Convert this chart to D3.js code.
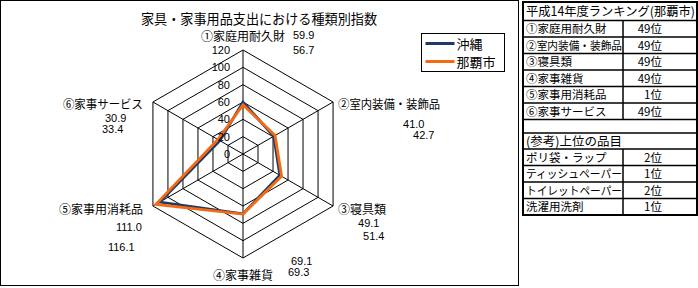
<!DOCTYPE html>
<html>
<head>
<meta charset="utf-8">
<script src="https://cdn.jsdelivr.net/npm/d3@7"></script>
<style>
    body { margin: 0; background: #fff; }
    svg { display: block; font-family: "Noto Sans CJK JP", "DejaVu Sans", sans-serif; }
</style>
</head>
<body>
<script>
// chart data
const categories = ['①家庭用耐久財', '②室内装備・装飾品', '③寝具類', '④家事雑貨', '⑤家事用消耗品', '⑥家事サービス'];
const okinawa = [59.9, 41.0, 49.1, 69.1, 111.0, 30.9];
const naha = [56.7, 42.7, 51.4, 69.3, 116.1, 33.4];
const ticks = [0, 20, 40, 60, 80, 100, 120];

// ranking table
const rankTitle = '平成14年度ランキング(那覇市)';
const rankNames = ['①家庭用耐久財', '②室内装備・装飾品', '③寝具類', '④家事雑貨', '⑤家事用消耗品', '⑥家事サービス'];
const rankValues = ['49位', '49位', '49位', '49位', '1位', '49位'];
const refTitle = '(参考)上位の品目';
const refNames = ['ポリ袋・ラップ', 'ティッシュペーパー', 'トイレットペーパー', '洗濯用洗剤'];
const refValues = ['2位', '1位', '2位', '1位'];

drawChart();

// squeeze a text that runs wider than max
function fit(sel, max)
{
    sel.each(function(d)
    {
        const m = typeof max === 'function' ? max(d) : max;
        if (this.getComputedTextLength() > m)
        {
            d3.select(this).attr('textLength', m).attr('lengthAdjust', 'spacingAndGlyphs');
        }
    });
}

function drawChart()
{
    const width = 698;
    const height = 288;
    const cx = 243;
    const cy = 154;

    const series = [
        { name: '沖縄', values: okinawa, color: '#1d3a66' },
        { name: '那覇市', values: naha, color: '#f46a12' }
    ];

    const svg = d3.select('body').append('svg')
        .attr('width', width)
        .attr('height', height);

    // chart frame
    svg.append('rect')
        .attr('x', 0.5).attr('y', 0.5)
        .attr('width', 518).attr('height', 285)
        .attr('fill', 'none').attr('stroke', '#000');

    svg.append('text')
        .attr('x', 259).attr('y', 24)
        .attr('text-anchor', 'middle')
        .attr('font-size', 13.5)
        .text('家具・家事用品支出における種類別指数')
        .call(fit, 236);

    const r = d3.scaleLinear().domain([0, 120]).range([0, 104]);
    const angle = d3.scalePoint().domain(d3.range(categories.length + 1)).range([0, 2 * Math.PI]);
    const pt = (i, v) => [cx + r(v) * Math.sin(angle(i)), cy - r(v) * Math.cos(angle(i))];

    const g = svg.append('g');

    // hexagon rings
    g.selectAll('path.ring')
        .data(ticks.slice(1))
        .enter()
        .append('path')
        .attr('class', 'ring')
        .attr('d', t => d3.line()(categories.map((c, i) => pt(i, t))) + 'Z')
        .attr('fill', 'none')
        .attr('stroke', '#000')
        .attr('stroke-width', 1);

    // spokes
    g.selectAll('line.spoke')
        .data(categories)
        .enter()
        .append('line')
        .attr('class', 'spoke')
        .attr('x1', cx).attr('y1', cy)
        .attr('x2', (c, i) => pt(i, 120)[0])
        .attr('y2', (c, i) => pt(i, 120)[1])
        .attr('stroke', '#000');

    // series polygons
    const radial = d3.lineRadial()
        .angle((d, i) => angle(i))
        .radius(d => r(d))
        .curve(d3.curveLinearClosed);

    g.selectAll('path.series')
        .data(series)
        .enter()
        .append('path')
        .attr('class', 'series')
        .attr('transform', `translate(${cx}, ${cy})`)
        .attr('d', d => radial(d.values))
        .attr('fill', 'none')
        .attr('stroke', d => d.color)
        .attr('stroke-width', 2.8)
        .attr('stroke-linejoin', 'miter');

    // tick labels
    g.selectAll('text.tick')
        .data(ticks)
        .enter()
        .append('text')
        .attr('class', 'tick')
        .attr('x', cx - 13)
        .attr('y', t => cy - r(t) + 4)
        .attr('text-anchor', 'end')
        .attr('font-size', 11)
        .attr('font-family', 'Liberation Sans, Arial, sans-serif')
        .text(t => t);

    // category labels: [x, y, anchor, max width] relative to the outer vertex
    const catPos = [
        [0, -13, 'middle', 84],
        [5, 3, 'start', 102],
        [5, 4, 'start', 60],
        [0, 18, 'middle', 62],
        [-10, 4, 'end', 84],
        [-10, 3, 'end', 80]
    ];
    categories.forEach((c, i) =>
    {
        const [x, y] = pt(i, 120);
        svg.append('text')
            .attr('x', x + catPos[i][0])
            .attr('y', y + catPos[i][1] + 4)
            .attr('text-anchor', catPos[i][2])
            .attr('font-size', 12)
            .text(c)
            .call(fit, catPos[i][3]);
    });

    // value labels: offsets of each series label from the outer vertex
    const valPos = [
        [[50, -15], [50, 0]],
        [[70, 22], [80, 33]],
        [[25, 17], [30, 30]],
        [[48, 3], [45, 14]],
        [[-37, 21], [-45, 41]],
        [[-48, 16], [-51, 27]]
    ];
    series.forEach((s, k) =>
    {
        s.values.forEach((v, i) =>
        {
            const [x, y] = pt(i, 120);
            svg.append('text')
                .attr('x', x + valPos[i][k][0])
                .attr('y', y + valPos[i][k][1] + 4)
                .attr('font-size', 11)
                .attr('font-family', 'Liberation Sans, Arial, sans-serif')
                .text(v.toFixed(1));
        });
    });

    // legend
    const legend = svg.append('g').attr('transform', 'translate(421.5, 33.5)');
    legend.append('rect')
        .attr('width', 83).attr('height', 38)
        .attr('fill', '#fff').attr('stroke', '#000');
    series.forEach((s, k) =>
    {
        legend.append('line')
            .attr('x1', 4).attr('x2', 33)
            .attr('y1', 10 + k * 18).attr('y2', 10 + k * 18)
            .attr('stroke', s.color).attr('stroke-width', 3);
        legend.append('text')
            .attr('x', 35).attr('y', 15 + k * 18)
            .attr('font-size', 13)
            .text(s.name);
    });

    drawTable(svg);
}

function drawTable(svg)
{
    const left = 523;
    const right = 697;
    const mid = 623;
    const rowH = 16.5;

    const rows = [];
    rows.push({ y0: 2, y1: 20.5, name: rankTitle, value: null });
    let y = 20.5;
    rankNames.forEach((n, i) =>
    {
        rows.push({ y0: y, y1: y + rowH, name: n, value: rankValues[i] });
        y += rowH;
    });
    rows.push({ y0: y, y1: 133, name: '', value: null });
    rows.push({ y0: 133, y1: 149, name: refTitle, value: null });
    y = 149;
    refNames.forEach((n, i) =>
    {
        rows.push({ y0: y, y1: y + rowH, name: n, value: refValues[i] });
        y += rowH;
    });

    const t = svg.append('g');

    t.selectAll('line.row')
        .data(rows.slice(1))
        .enter()
        .append('line')
        .attr('x1', left).attr('x2', right)
        .attr('y1', d => d.y0).attr('y2', d => d.y0)
        .attr('stroke', '#000').attr('stroke-width', 1.5);

    t.selectAll('line.col')
        .data(rows.filter(d => d.value))
        .enter()
        .append('line')
        .attr('x1', mid).attr('x2', mid)
        .attr('y1', d => d.y0).attr('y2', d => d.y1)
        .attr('stroke', '#000').attr('stroke-width', 1.5);

    t.append('rect')
        .attr('x', left).attr('y', 2)
        .attr('width', right - left).attr('height', y - 2)
        .attr('fill', 'none').attr('stroke', '#000').attr('stroke-width', 2);

    t.selectAll('text.name')
        .data(rows)
        .enter()
        .append('text')
        .attr('x', left + 3)
        .attr('y', d => (d.y0 + d.y1) / 2 + 4.5)
        .attr('font-size', d => d.value ? 11.5 : 12.5)
        .text(d => d.name)
        .call(fit, d => d.value ? 96 : 169);

    t.selectAll('text.value')
        .data(rows.filter(d => d.value))
        .enter()
        .append('text')
        .attr('x', 662)
        .attr('y', d => (d.y0 + d.y1) / 2 + 4.5)
        .attr('text-anchor', 'end')
        .attr('font-size', 11.5)
        .text(d => d.value);
}
</script>
</body>
</html>
